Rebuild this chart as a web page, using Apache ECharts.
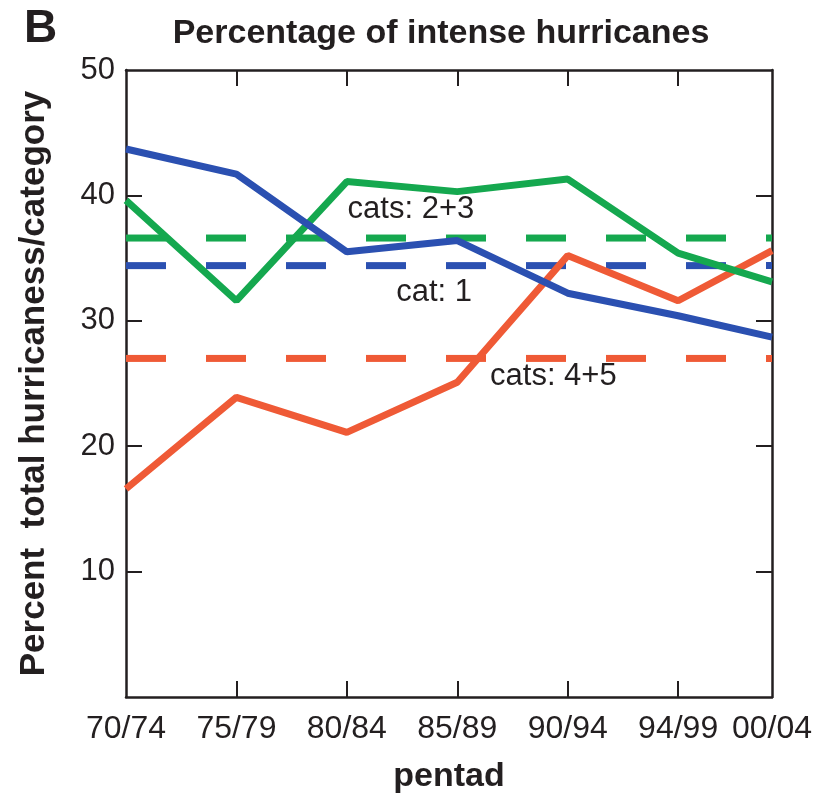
<!DOCTYPE html>
<html>
<head>
<meta charset="utf-8">
<script src="https://cdn.jsdelivr.net/npm/echarts@6/dist/echarts.min.js"></script>
<style>
  html, body { margin: 0; padding: 0; background: #fff; }
  #main { width: 836px; height: 799px; }
</style>
</head>
<body>
<div id="main"></div>
<script>
// pentads along the x axis (last pentad sits a bit closer in the original)
var pentads = ['70/74', '75/79', '80/84', '85/89', '90/94', '94/99', '00/04'];
var pentadPos = [0, 1, 2, 3, 4, 5, 5.85];

// percent of total hurricanes per category
var cat1 = [43.7, 41.7, 35.5, 36.4, 32.2, 30.4, 28.7];
var cat23 = [39.6, 31.6, 41.1, 40.3, 41.3, 35.4, 33.1];
var cat45 = [16.6, 23.9, 21.1, 25.1, 35.2, 31.6, 35.6];

// long-term means (dashed)
var mean1 = 34.4;
var mean23 = 36.6;
var mean45 = 27.0;

var yTicks = [10, 20, 30, 40, 50];

var BLUE = '#2b50b1', GREEN = '#15a84f', RED = '#ef5a36', INK = '#231f20';
var FONT = '"Liberation Sans", Arial, sans-serif';

function pts(vals) {
    return vals.map(function (v, i) { return [pentadPos[i], v]; });
}
function flat(v) {
    return [[pentadPos[0], v], [pentadPos[pentadPos.length - 1], v]];
}
function note(text, x, y) {
    return {
        symbol: 'rect', symbolSize: 1,
        itemStyle: { color: 'rgba(0,0,0,0)' },
        label: { show: true, position: 'inside', color: INK, fontSize: 31, fontFamily: FONT },
        data: [{ coord: [x, y], value: text, label: { formatter: text } }]
    };
}

var chart = echarts.init(document.getElementById('main'));

var axisLine = { show: true, onZero: false, lineStyle: { color: INK, width: 2.5 } };
var tickStyle = { show: true, inside: true, length: 16, lineStyle: { color: INK, width: 2 } };
var innerX = pentadPos.slice(1, pentadPos.length - 1);

var option = {
    animation: false,
    backgroundColor: '#fff',
    grid: { left: 126, right: 64, top: 70, bottom: 97 },
    graphic: [
        { type: 'text', x: 24, y: 29, style: { text: 'B', font: 'bold 46px ' + FONT, fill: INK, textVerticalAlign: 'middle' } },
        { type: 'text', x: 441, y: 34, style: { text: 'Percentage of intense hurricanes', font: 'bold 34px ' + FONT, fill: INK, textAlign: 'center', textVerticalAlign: 'middle' } }
    ],
    xAxis: [{
        type: 'value', min: 0, max: pentadPos[pentadPos.length - 1],
        position: 'bottom',
        splitLine: { show: false },
        axisLine: axisLine,
        axisTick: Object.assign({}, tickStyle, { customValues: innerX }),
        axisLabel: {
            customValues: pentadPos, margin: 16, color: INK, fontSize: 32, fontFamily: FONT,
            hideOverlap: false,
            formatter: function (v) {
                for (var i = 0; i < pentadPos.length; i++) {
                    if (Math.abs(pentadPos[i] - v) < 1e-6) return pentads[i];
                }
                return '';
            }
        },
        name: 'pentad', nameLocation: 'middle', nameGap: 63,
        nameTextStyle: { color: INK, fontSize: 34, fontWeight: 'bold', fontFamily: FONT }
    }, {
        type: 'value', min: 0, max: pentadPos[pentadPos.length - 1],
        position: 'top',
        splitLine: { show: false },
        axisLine: axisLine,
        axisTick: Object.assign({}, tickStyle, { customValues: innerX }),
        axisLabel: { show: false }
    }],
    yAxis: [{
        type: 'value', min: 0, max: 50, interval: 10,
        position: 'left',
        splitLine: { show: false },
        axisLine: axisLine,
        axisTick: Object.assign({}, tickStyle, { customValues: yTicks.slice(0, 4) }),
        axisLabel: {
            customValues: yTicks, margin: 11, color: INK, fontSize: 31, fontFamily: FONT
        },
        name: 'Percent  total hurricaness/category', nameLocation: 'middle', nameGap: 74,
        nameTextStyle: { color: INK, fontSize: 35, fontWeight: 'bold', fontFamily: FONT }
    }, {
        type: 'value', min: 0, max: 50, interval: 10,
        position: 'right',
        splitLine: { show: false },
        axisLine: axisLine,
        axisTick: Object.assign({}, tickStyle, { customValues: yTicks.slice(0, 4) }),
        axisLabel: { show: false }
    }],
    series: [
        { name: 'cats: 4+5 mean', type: 'line', data: flat(mean45), symbol: 'none',
          lineStyle: { color: RED, width: 7, type: [40, 40] }, markPoint: note('cats: 4+5', 3.87, 25.6) },
        { name: 'cat: 1 mean', type: 'line', data: flat(mean1), symbol: 'none',
          lineStyle: { color: BLUE, width: 7, type: [40, 40] }, markPoint: note('cat: 1', 2.79, 32.3) },
        { name: 'cats: 2+3 mean', type: 'line', data: flat(mean23), symbol: 'none',
          lineStyle: { color: GREEN, width: 7, type: [40, 40] }, markPoint: note('cats: 2+3', 2.58, 38.9) },
        { name: 'cats: 4+5', type: 'line', data: pts(cat45), symbol: 'none',
          lineStyle: { color: RED, width: 7 } },
        { name: 'cats: 2+3', type: 'line', data: pts(cat23), symbol: 'none',
          lineStyle: { color: GREEN, width: 7 } },
        { name: 'cat: 1', type: 'line', data: pts(cat1), symbol: 'none',
          lineStyle: { color: BLUE, width: 7 } }
    ]
};

chart.setOption(option);
</script>
</body>
</html>
